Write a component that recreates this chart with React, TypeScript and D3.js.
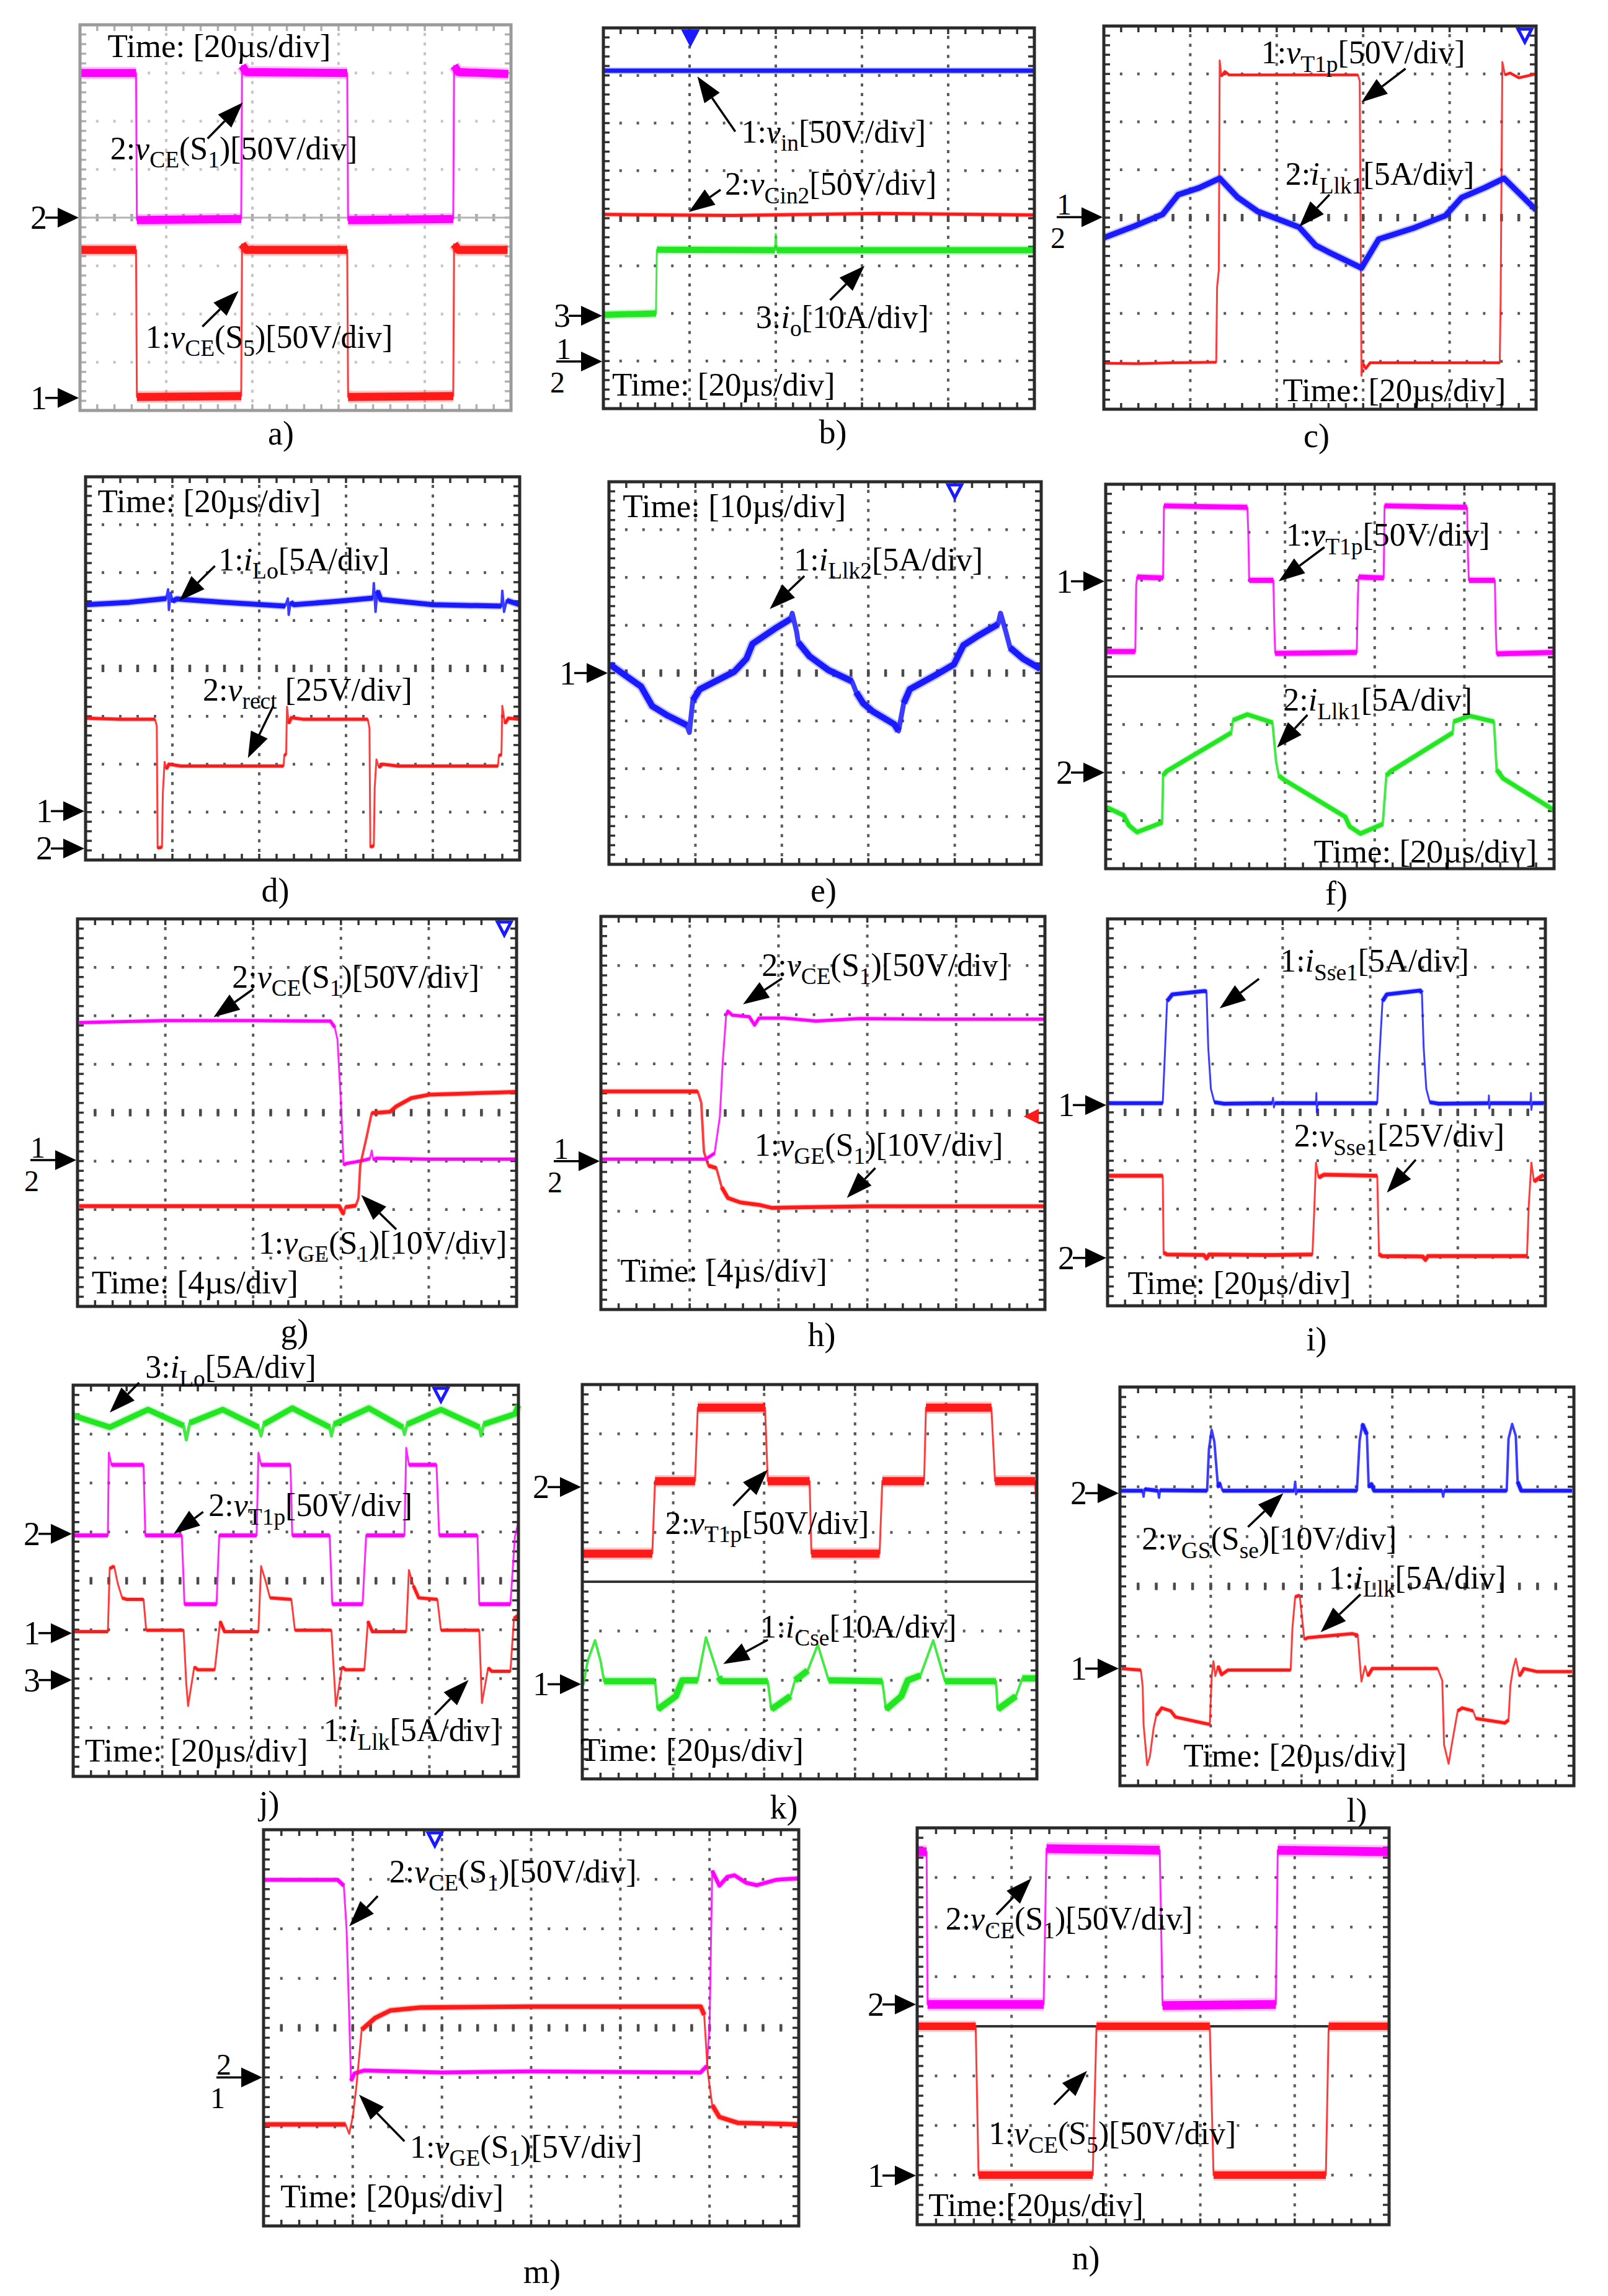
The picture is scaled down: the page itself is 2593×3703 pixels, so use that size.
import React from "react";
import * as d3 from "d3";

type Pt = [number, number];
type Seg = { t: string; i?: boolean; s?: boolean };

const FONT = "'Liberation Serif','Times New Roman',serif";
const MAG = "#ff00ff";
const RED = "#ff1a1a";
const BLUE = "#1a1aff";
const GREEN = "#22e622";

// ---------- trace data (x in divisions from left, y in divisions from bottom) ----------
const aCh2: Pt[] = [[0.01,7.0],[0.65,7.0],[0.66,3.95],[1.87,3.97],[1.88,7.15],[1.93,7.02],[3.10,7.0],[3.11,3.95],[4.33,3.97],[4.34,7.15],[4.39,7.02],[4.97,6.98]];
const aCh1: Pt[] = [[0.01,3.33],[0.65,3.33],[0.66,0.28],[1.87,0.30],[1.88,3.45],[1.93,3.33],[3.10,3.33],[3.11,0.28],[4.33,0.30],[4.34,3.45],[4.39,3.33],[4.96,3.33]];

const bCh1: Pt[] = [[0,7.1],[5,7.1]];
const bCh2: Pt[] = [[0,4.08],[1.5,4.06],[3.2,4.1],[5,4.07]];
const bCh3: Pt[] = [[0,1.97],[0.61,2.0],[0.62,3.34],[1.99,3.33],[2.0,3.67],[2.01,3.33],[5,3.33]];

const cCh1: Pt[] = [[0,0.96],[0.4,0.95],[0.8,0.97],[1.30,0.98],[1.31,2.55],[1.33,2.9],[1.34,7.28],[1.36,6.95],[1.40,7.05],[1.45,6.98],[2.0,6.98],[2.94,6.98],[2.96,6.85],[2.97,4.0],[2.98,0.70],[3.0,0.95],[3.03,0.85],[3.08,0.97],[4.58,0.97],[4.59,2.25],[4.61,7.25],[4.64,6.98],[4.7,7.02],[4.8,6.92],[5,7.0]];
const cCh2: Pt[] = [[0,3.58],[0.35,3.82],[0.68,4.07],[0.86,4.48],[1.10,4.62],[1.34,4.82],[1.55,4.42],[1.78,4.13],[2.26,3.80],[2.45,3.42],[2.60,3.28],[2.98,2.95],[3.18,3.55],[3.58,3.78],[3.95,4.04],[4.14,4.42],[4.40,4.62],[4.63,4.82],[5.0,4.16]];

const dCh1: Pt[] = [[0,5.33],[0.5,5.38],[0.93,5.46],[0.95,5.65],[0.96,5.22],[0.98,5.58],[1.0,5.40],[1.05,5.45],[1.6,5.38],[2.3,5.30],[2.33,5.46],[2.34,5.12],[2.36,5.38],[2.4,5.33],[2.9,5.40],[3.31,5.47],[3.32,5.78],[3.34,5.18],[3.36,5.62],[3.40,5.44],[3.5,5.42],[4.0,5.33],[4.79,5.30],[4.80,5.62],[4.82,5.18],[4.85,5.42],[5,5.33]];
const dCh2: Pt[] = [[0,2.96],[0.4,2.94],[0.80,2.94],[0.82,2.8],[0.83,0.25],[0.88,0.27],[0.89,1.4],[0.91,2.05],[0.93,1.90],[0.96,2.0],[1.1,1.96],[2.28,1.96],[2.29,2.2],[2.31,2.2],[2.32,3.2],[2.34,2.85],[2.37,2.97],[2.5,2.94],[3.25,2.94],[3.27,2.75],[3.28,0.27],[3.32,0.30],[3.33,1.5],[3.35,2.10],[3.38,1.93],[3.42,2.0],[3.6,1.96],[4.75,1.96],[4.76,2.18],[4.79,2.2],[4.80,3.22],[4.83,2.85],[4.87,2.96],[5,2.94]];

const eCh1: Pt[] = [[0.01,4.18],[0.37,3.72],[0.50,3.31],[0.68,3.11],[0.90,2.91],[0.93,2.76],[0.97,3.43],[1.05,3.66],[1.45,4.03],[1.59,4.30],[1.66,4.61],[1.92,4.93],[2.10,5.13],[2.12,5.25],[2.17,4.87],[2.19,4.64],[2.32,4.35],[2.54,4.06],[2.81,3.83],[2.86,3.60],[2.94,3.37],[3.05,3.20],[3.30,2.93],[3.35,2.79],[3.41,3.37],[3.48,3.66],[3.77,3.95],[3.99,4.18],[4.10,4.58],[4.28,4.79],[4.50,5.02],[4.53,5.25],[4.59,4.87],[4.64,4.53],[4.79,4.30],[4.99,4.09]];

const fCh1: Pt[] = [[0,4.52],[0.33,4.52],[0.34,5.9],[0.35,6.07],[0.64,6.05],[0.65,7.55],[1.58,7.52],[1.59,7.0],[1.60,6.0],[1.87,6.0],[1.88,5.1],[1.89,4.48],[2.80,4.50],[2.81,5.5],[2.82,6.07],[3.10,6.05],[3.11,7.55],[4.03,7.52],[4.04,6.5],[4.05,6.0],[4.34,6.0],[4.35,5.0],[4.36,4.47],[5,4.50]];
const fCh2: Pt[] = [[0.01,1.28],[0.20,1.11],[0.26,0.90],[0.35,0.76],[0.63,0.96],[0.64,1.94],[0.68,2.03],[1.40,2.83],[1.42,3.09],[1.58,3.21],[1.86,3.04],[1.90,2.23],[1.93,1.94],[1.99,1.85],[2.67,1.08],[2.72,0.88],[2.84,0.73],[3.09,0.93],[3.13,1.94],[3.18,2.03],[3.87,2.83],[3.88,3.06],[4.06,3.18],[4.33,3.06],[4.36,2.06],[4.43,1.88],[5.0,1.22]];

const gCh2: Pt[] = [[0.02,5.86],[1.0,5.9],[2.0,5.9],[2.88,5.89],[2.93,5.76],[2.96,5.51],[3.0,4.21],[3.03,2.92],[3.06,2.95],[3.22,3.0],[3.33,3.05],[3.35,3.22],[3.37,3.02],[3.40,3.06],[4.0,3.04],[5.0,3.04]];
const gCh1: Pt[] = [[0.02,2.07],[2.98,2.07],[3.03,1.90],[3.05,2.05],[3.17,2.08],[3.20,2.24],[3.22,2.92],[3.29,3.48],[3.35,3.99],[3.56,4.02],[3.63,4.13],[3.80,4.30],[4.0,4.37],[5.0,4.43]];

const hCh1: Pt[] = [[0.01,4.44],[1.09,4.44],[1.13,4.21],[1.16,3.21],[1.21,2.93],[1.30,2.88],[1.36,2.49],[1.43,2.27],[1.57,2.18],[1.78,2.13],[1.92,2.07],[3.0,2.10],[5.0,2.10]];
const hCh2: Pt[] = [[0.01,3.06],[1.18,3.06],[1.28,3.18],[1.34,3.93],[1.37,4.99],[1.41,5.99],[1.43,6.07],[1.48,5.99],[1.67,5.96],[1.73,5.79],[1.78,5.93],[2.06,5.93],[2.42,5.87],[2.91,5.92],[3.76,5.91],[5.0,5.91]];

const iCh1: Pt[] = [[0.01,4.19],[0.63,4.19],[0.65,5.0],[0.68,6.30],[0.74,6.44],[1.11,6.51],[1.13,6.49],[1.15,5.34],[1.18,4.49],[1.22,4.21],[1.33,4.18],[1.88,4.19],[1.89,4.3],[1.90,4.1],[1.91,4.19],[2.38,4.19],[2.385,4.4],[2.39,4.0],[2.40,4.19],[3.08,4.19],[3.10,5.0],[3.14,6.30],[3.19,6.44],[3.57,6.52],[3.59,6.47],[3.61,5.34],[3.64,4.49],[3.68,4.21],[3.78,4.18],[4.35,4.19],[4.355,4.35],[4.36,4.08],[4.37,4.19],[4.83,4.19],[4.835,4.4],[4.84,4.05],[4.85,4.19],[4.98,4.19]];
const iCh2: Pt[] = [[0.01,2.69],[0.63,2.69],[0.64,1.10],[0.68,1.06],[1.1,1.05],[1.13,0.98],[1.16,1.06],[1.9,1.05],[2.34,1.06],[2.36,1.95],[2.38,2.96],[2.41,2.65],[2.47,2.71],[3.08,2.69],[3.10,1.07],[3.13,1.03],[3.6,1.02],[3.63,0.95],[3.66,1.03],[4.79,1.03],[4.81,2.06],[4.84,2.96],[4.87,2.57],[4.98,2.71]];

const jCh3: Pt[] = [[0,7.38],[0.41,7.14],[0.84,7.50],[1.24,7.17],[1.27,6.88],[1.31,7.23],[1.68,7.50],[2.08,7.14],[2.11,6.96],[2.14,7.2],[2.46,7.53],[2.88,7.14],[2.90,6.96],[2.93,7.2],[3.32,7.53],[3.70,7.14],[3.72,6.99],[3.75,7.2],[4.13,7.50],[4.56,7.14],[4.58,6.96],[4.61,7.2],[4.96,7.41],[5.0,7.59]];
const jCh2: Pt[] = [[0,4.93],[0.39,4.93],[0.40,6.62],[0.43,6.37],[0.79,6.37],[0.81,4.93],[1.22,4.93],[1.25,3.52],[1.61,3.52],[1.64,4.93],[2.06,4.93],[2.08,6.62],[2.11,6.37],[2.44,6.37],[2.46,4.93],[2.88,4.93],[2.91,3.52],[3.25,3.52],[3.29,4.93],[3.72,4.93],[3.74,6.72],[3.77,6.37],[4.08,6.37],[4.11,4.93],[4.54,4.93],[4.56,3.52],[4.91,3.52],[4.96,4.9],[5,5.2]];
const jCh1: Pt[] = [[0,2.96],[0.39,2.96],[0.41,4.25],[0.46,4.30],[0.50,3.95],[0.55,3.65],[0.60,3.62],[0.79,3.62],[0.82,2.99],[1.24,2.99],[1.27,1.9],[1.29,1.44],[1.36,2.24],[1.40,2.18],[1.59,2.18],[1.65,3.17],[1.70,2.96],[2.08,2.96],[2.11,4.30],[2.16,4.0],[2.21,3.65],[2.45,3.62],[2.49,2.99],[2.90,2.99],[2.95,1.44],[3.02,2.24],[3.06,2.18],[3.27,2.18],[3.31,3.17],[3.36,2.96],[3.74,2.96],[3.77,4.22],[3.82,3.9],[3.88,3.65],[4.09,3.62],[4.13,2.99],[4.56,2.99],[4.59,1.50],[4.66,2.22],[4.70,2.15],[4.91,2.15],[4.95,3.23],[5.0,3.3]];

const kCh2: Pt[] = [[0.01,4.57],[0.77,4.57],[0.80,6.04],[1.24,6.04],[1.27,7.53],[2.01,7.53],[2.04,6.04],[2.50,6.04],[2.52,4.57],[3.27,4.57],[3.30,6.04],[3.76,6.04],[3.78,7.53],[4.50,7.53],[4.54,6.04],[4.98,6.04],[5.0,5.3]];
const kCh1: Pt[] = [[0.01,1.9],[0.06,2.4],[0.14,2.81],[0.20,2.4],[0.24,1.98],[0.80,1.98],[0.83,1.41],[1.03,1.68],[1.10,2.0],[1.27,2.0],[1.36,2.87],[1.50,2.07],[1.53,1.98],[2.04,1.98],[2.08,1.41],[2.29,1.68],[2.34,2.0],[2.48,2.2],[2.59,2.72],[2.71,2.0],[3.30,1.98],[3.34,1.41],[3.51,1.68],[3.58,2.0],[3.72,2.1],[3.86,2.81],[3.99,1.98],[4.55,1.98],[4.57,1.41],[4.77,1.68],[4.84,2.04],[5.0,2.04]];

const lCh2: Pt[] = [[0.01,5.92],[0.25,5.92],[0.26,5.8],[0.27,5.95],[0.42,5.92],[0.43,5.78],[0.44,5.93],[0.96,5.92],[0.98,6.75],[1.01,7.14],[1.04,6.90],[1.08,5.99],[1.10,6.08],[1.13,5.92],[1.92,5.92],[1.93,6.10],[1.94,5.85],[1.95,5.92],[2.61,5.92],[2.64,6.93],[2.67,7.26],[2.72,7.05],[2.74,5.99],[2.77,6.05],[2.80,5.92],[3.55,5.92],[3.56,5.8],[3.57,5.92],[4.26,5.92],[4.28,6.96],[4.32,7.26],[4.36,7.02],[4.38,6.10],[4.42,5.92],[4.98,5.92]];
const lCh1: Pt[] = [[0.02,2.35],[0.23,2.32],[0.25,2.0],[0.26,1.23],[0.30,0.41],[0.33,0.59],[0.37,1.15],[0.40,1.41],[0.46,1.56],[0.56,1.50],[0.61,1.38],[0.91,1.26],[0.99,1.23],[1.01,2.20],[1.03,2.5],[1.05,2.2],[1.08,2.4],[1.12,2.23],[1.19,2.32],[1.88,2.32],[1.90,3.17],[1.93,3.79],[1.98,3.82],[2.03,2.94],[2.07,2.97],[2.56,3.05],[2.62,3.02],[2.65,2.29],[2.66,2.09],[2.70,2.40],[2.73,2.20],[2.78,2.35],[3.50,2.35],[3.55,2.11],[3.57,0.82],[3.62,0.44],[3.66,0.88],[3.72,1.50],[3.77,1.56],[3.89,1.50],[3.92,1.35],[4.24,1.26],[4.28,1.32],[4.30,2.0],[4.33,2.35],[4.36,2.55],[4.40,2.2],[4.45,2.35],[4.59,2.29],[4.98,2.29]];

const mCh2: Pt[] = [[0,6.99],[0.83,6.99],[0.90,6.87],[0.93,6.02],[0.96,4.26],[0.98,2.93],[1.02,3.08],[1.13,3.14],[2.0,3.1],[3.0,3.12],[4.90,3.10],[4.97,3.23],[5.0,4.02],[5.03,7.17],[5.11,6.87],[5.20,7.05],[5.28,7.08],[5.41,6.93],[5.53,6.88],[5.75,6.99],[6.0,7.02]];
const mCh1: Pt[] = [[0,2.05],[0.92,2.05],[0.96,1.86],[1.0,2.20],[1.04,2.80],[1.10,3.96],[1.25,4.20],[1.42,4.35],[1.76,4.41],[3.0,4.43],[4.90,4.43],[4.94,4.26],[4.98,3.11],[5.03,2.44],[5.11,2.20],[5.32,2.08],[6.0,2.05]];

const nCh2: Pt[] = [[0,7.52],[0.10,7.52],[0.11,4.44],[1.34,4.44],[1.37,7.58],[2.57,7.55],[2.60,4.42],[3.80,4.44],[3.82,7.55],[5.0,7.52]];
const nCh1: Pt[] = [[0,4.0],[0.62,4.0],[0.65,1.0],[1.86,1.0],[1.90,4.0],[3.10,4.0],[3.14,1.0],[4.33,1.0],[4.36,4.0],[5.0,4.0]];

// ---------- text helpers ----------
const T = (s: string): Seg => ({ t: s });
const I = (s: string): Seg => ({ t: s, i: true });
const B = (s: string): Seg => ({ t: s, s: true });

const vce = (ch: string, sw: string, sc: string): Seg[] => [T(ch + ":"), I("v"), B("CE"), T("(S"), B(sw), T(")[" + sc + "]")];
const vge = (ch: string, sc: string): Seg[] => [T(ch + ":"), I("v"), B("GE"), T("(S"), B("1"), T(")[" + sc + "]")];

type Trace = { pts: Pt[]; c: string; w: number; ew: number };
type Annot = { segs: Seg[]; tx: number; ty: number; from: Pt; to: Pt };
type Marker = { y: number; labels: string[] };
type Panel = {
  x: number; y: number; w: number; h: number; nx: number;
  split?: boolean; light?: boolean;
  traces: Trace[]; annots: Annot[]; markers: Marker[];
  time: { text: string; x: number; y: number };
  label: { text: string; x: number; y: number };
  trig?: { x: number; hollow?: boolean }[];
  rmark?: { y: number; c: string };
};

const panels: Panel[] = [
  {
    x: 129, y: 40, w: 695, h: 622, nx: 5, light: true,
    traces: [{ pts: aCh2, c: MAG, w: 13, ew: 3 }, { pts: aCh1, c: RED, w: 13, ew: 3 }],
    annots: [
      { segs: vce("2", "1", "50V/div"), tx: 0.35, ty: 5.21, from: [1.48, 5.64], to: [1.89, 6.39] },
      { segs: vce("1", "5", "50V/div"), tx: 0.76, ty: 1.30, from: [1.42, 1.74], to: [1.84, 2.48] },
    ],
    markers: [{ y: 4.0, labels: ["2"] }, { y: 0.26, labels: ["1"] }],
    time: { text: "Time: [20µs/div]", x: 0.32, y: 7.33 },
    label: { text: "a)", x: 453, y: 699 },
  },
  {
    x: 973, y: 45, w: 695, h: 614, nx: 5,
    traces: [{ pts: bCh1, c: BLUE, w: 7, ew: 3 }, { pts: bCh2, c: RED, w: 5, ew: 3 }, { pts: bCh3, c: GREEN, w: 10, ew: 3 }],
    annots: [
      { segs: [T("1:"), I("v"), B("in"), T("[50V/div]")], tx: 1.6, ty: 5.59, from: [1.53, 5.82], to: [1.09, 6.98] },
      { segs: [T("2:"), I("v"), B("Cin2"), T("[50V/div]")], tx: 1.41, ty: 4.49, from: [1.36, 4.60], to: [0.99, 4.13] },
      { segs: [T("3:"), I("i"), B("o"), T("[10A/div]")], tx: 1.77, ty: 1.70, from: [2.63, 2.28], to: [3.03, 3.0] },
    ],
    markers: [{ y: 1.95, labels: ["3"] }, { y: 0.99, labels: ["1", "2"] }],
    time: { text: "Time: [20µs/div]", x: 0.10, y: 0.27 },
    label: { text: "b)", x: 1343, y: 697 },
    trig: [{ x: 1.01 }],
  },
  {
    x: 1780, y: 42, w: 697, h: 618, nx: 5,
    traces: [{ pts: cCh1, c: RED, w: 4, ew: 3 }, { pts: cCh2, c: BLUE, w: 9, ew: 7 }],
    annots: [
      { segs: [T("1:"), I("v"), B("T1p"), T("[50V/div]")], tx: 1.82, ty: 7.22, from: [3.49, 7.11], to: [2.98, 6.41] },
      { segs: [T("2:"), I("i"), B("Llk1"), T("[5A/div]")], tx: 2.10, ty: 4.68, from: [2.61, 4.48], to: [2.26, 3.81] },
    ],
    markers: [{ y: 4.01, labels: ["1", "2"] }],
    time: { text: "Time: [20µs/div]", x: 2.07, y: 0.17 },
    label: { text: "c)", x: 2123, y: 703 },
    trig: [{ x: 4.87, hollow: true }],
  },
  {
    x: 138, y: 769, w: 700, h: 618, nx: 5,
    traces: [{ pts: dCh1, c: BLUE, w: 8, ew: 4 }, { pts: dCh2, c: RED, w: 5, ew: 3 }],
    annots: [
      { segs: [T("1:"), I("i"), B("Lo"), T("[5A/div]")], tx: 1.53, ty: 6.05, from: [1.49, 6.14], to: [1.08, 5.41] },
      { segs: [T("2:"), I("v"), B("rect"), T(" [25V/div]")], tx: 1.35, ty: 3.33, from: [2.16, 3.21], to: [1.87, 2.13] },
    ],
    markers: [{ y: 1.02, labels: ["1"] }, { y: 0.24, labels: ["2"] }],
    time: { text: "Time: [20µs/div]", x: 0.14, y: 7.26 },
    label: { text: "d)", x: 444, y: 1436 },
  },
  {
    x: 982, y: 777, w: 697, h: 617, nx: 5,
    traces: [{ pts: eCh1, c: BLUE, w: 10, ew: 8 }],
    annots: [
      { segs: [T("1:"), I("i"), B("Llk2"), T("[5A/div]")], tx: 2.14, ty: 6.15, from: [2.26, 6.03], to: [1.86, 5.34] },
    ],
    markers: [{ y: 4.0, labels: ["1"] }],
    time: { text: "Time: [10µs/div]", x: 0.16, y: 7.26 },
    label: { text: "e)", x: 1328, y: 1436 },
    trig: [{ x: 4.0, hollow: true }],
  },
  {
    x: 1783, y: 781, w: 723, h: 620, nx: 5, split: true,
    traces: [{ pts: fCh1, c: MAG, w: 8, ew: 3 }, { pts: fCh2, c: GREEN, w: 7, ew: 4 }],
    annots: [
      { segs: [T("1:"), I("v"), B("T1p"), T("[50V/div]")], tx: 2.01, ty: 6.72, from: [2.44, 6.69], to: [1.93, 5.98] },
      { segs: [T("2:"), I("i"), B("Llk1"), T("[5A/div]")], tx: 1.98, ty: 3.29, from: [2.25, 3.20], to: [1.91, 2.52] },
    ],
    markers: [{ y: 5.98, labels: ["1"] }, { y: 2.0, labels: ["2"] }],
    time: { text: "Time: [20µs/div]", x: 2.32, y: 0.13 },
    label: { text: "f)", x: 2155, y: 1441 },
  },
  {
    x: 125, y: 1482, w: 708, h: 625, nx: 5,
    traces: [{ pts: gCh2, c: MAG, w: 5, ew: 3 }, { pts: gCh1, c: RED, w: 6, ew: 4 }],
    annots: [
      { segs: vce("2", "1", "50V/div"), tx: 1.76, ty: 6.58, from: [2.0, 6.55], to: [1.55, 5.97] },
      { segs: vge("1", "10V/div"), tx: 2.06, ty: 1.09, from: [3.63, 1.59], to: [3.23, 2.30] },
    ],
    markers: [{ y: 3.02, labels: ["1", "2"] }],
    time: { text: "Time: [4µs/div]", x: 0.16, y: 0.27 },
    label: { text: "g)", x: 475, y: 2147 },
    trig: [{ x: 4.86, hollow: true }],
  },
  {
    x: 969, y: 1478, w: 716, h: 634, nx: 5,
    traces: [{ pts: hCh1, c: RED, w: 6, ew: 4 }, { pts: hCh2, c: MAG, w: 5, ew: 3 }],
    annots: [
      { segs: vce("2", "1", "50V/div"), tx: 1.81, ty: 6.79, from: [2.04, 6.74], to: [1.60, 6.21] },
      { segs: vge("1", "10V/div"), tx: 1.73, ty: 3.13, from: [3.09, 2.88], to: [2.77, 2.27] },
    ],
    markers: [{ y: 3.02, labels: ["1", "2"] }],
    time: { text: "Time: [4µs/div]", x: 0.22, y: 0.57 },
    label: { text: "h)", x: 1325, y: 2153 },
    rmark: { y: 3.93, c: RED },
  },
  {
    x: 1786, y: 1482, w: 706, h: 624, nx: 5,
    traces: [{ pts: iCh1, c: BLUE, w: 6, ew: 3 }, { pts: iCh2, c: RED, w: 6, ew: 3 }],
    annots: [
      { segs: [T("1:"), I("i"), B("Sse1"), T("[5A/div]")], tx: 1.97, ty: 6.91, from: [1.73, 6.76], to: [1.28, 6.15] },
      { segs: [T("2:"), I("v"), B("Sse1"), T("[25V/div]")], tx: 2.13, ty: 3.29, from: [3.52, 3.02], to: [3.19, 2.34] },
    ],
    markers: [{ y: 4.15, labels: ["1"] }, { y: 0.99, labels: ["2"] }],
    time: { text: "Time: [20µs/div]", x: 0.23, y: 0.25 },
    label: { text: "i)", x: 2123, y: 2160 },
  },
  {
    x: 118, y: 2234, w: 718, h: 631, nx: 5,
    traces: [{ pts: jCh3, c: GREEN, w: 9, ew: 5 }, { pts: jCh2, c: MAG, w: 6, ew: 3 }, { pts: jCh1, c: RED, w: 5, ew: 3 }],
    annots: [
      { segs: [T("3:"), I("i"), B("Lo"), T("[5A/div]")], tx: 0.81, ty: 8.15, from: [0.74, 8.05], to: [0.41, 7.44] },
      { segs: [T("2:"), I("v"), B("T1p"), T("[50V/div]")], tx: 1.52, ty: 5.32, from: [1.46, 5.41], to: [1.13, 4.96] },
      { segs: [T("1:"), I("i"), B("Llk"), T("[5A/div]")], tx: 2.81, ty: 0.72, from: [4.06, 1.26], to: [4.44, 1.97] },
    ],
    markers: [{ y: 4.96, labels: ["2"] }, { y: 2.93, labels: ["1"] }, { y: 1.97, labels: ["3"] }],
    time: { text: "Time: [20µs/div]", x: 0.13, y: 0.30 },
    label: { text: "j)", x: 434, y: 2908 },
    trig: [{ x: 4.13, hollow: true }],
  },
  {
    x: 939, y: 2233, w: 733, h: 636, nx: 5, split: true,
    traces: [{ pts: kCh2, c: RED, w: 13, ew: 3 }, { pts: kCh1, c: GREEN, w: 10, ew: 4 }],
    annots: [
      { segs: [T("2:"), I("v"), B("T1p"), T("[50V/div]")], tx: 0.91, ty: 4.97, from: [1.66, 5.54], to: [2.04, 6.27] },
      { segs: [T("1:"), I("i"), B("Cse"), T("[10A/div]")], tx: 1.96, ty: 2.87, from: [2.04, 2.82], to: [1.55, 2.33] },
    ],
    markers: [{ y: 5.92, labels: ["2"] }, { y: 1.92, labels: ["1"] }],
    time: { text: "Time: [20µs/div]", x: -0.02, y: 0.37 },
    label: { text: "k)", x: 1264, y: 2915 },
  },
  {
    x: 1806, y: 2237, w: 732, h: 643, nx: 5,
    traces: [{ pts: lCh2, c: BLUE, w: 6, ew: 4 }, { pts: lCh1, c: RED, w: 5, ew: 3 }],
    annots: [
      { segs: [T("2:"), I("v"), B("GS"), T("(S"), B("se"), T(")[10V/div]")], tx: 0.24, ty: 4.74, from: [1.41, 5.19], to: [1.80, 5.87] },
      { segs: [T("1:"), I("i"), B("Llk"), T("[5A/div]")], tx: 2.30, ty: 3.96, from: [2.65, 3.84], to: [2.21, 3.08] },
    ],
    markers: [{ y: 5.87, labels: ["2"] }, { y: 2.35, labels: ["1"] }],
    time: { text: "Time: [20µs/div]", x: 0.70, y: 0.38 },
    label: { text: "l)", x: 2188, y: 2920 },
  },
  {
    x: 425, y: 2951, w: 863, h: 639, nx: 6,
    traces: [{ pts: mCh2, c: MAG, w: 6, ew: 3 }, { pts: mCh1, c: RED, w: 7, ew: 3 }],
    annots: [
      { segs: vce("2", "1", "50V/div"), tx: 1.41, ty: 6.94, from: [1.28, 6.66], to: [0.96, 6.05] },
      { segs: vge("1", "5V/div"), tx: 1.64, ty: 1.38, from: [1.58, 1.71], to: [1.07, 2.65] },
    ],
    markers: [{ y: 3.0, labels: ["2", "1"] }],
    time: { text: "Time: [20µs/div]", x: 0.19, y: 0.38 },
    label: { text: "m)", x: 874, y: 3664 },
    trig: [{ x: 1.92, hollow: true }],
  },
  {
    x: 1479, y: 2948, w: 761, h: 640, nx: 5, split: true,
    traces: [{ pts: nCh2, c: MAG, w: 14, ew: 3 }, { pts: nCh1, c: RED, w: 12, ew: 3 }],
    annots: [
      { segs: vce("2", "1", "50V/div"), tx: 0.30, ty: 5.95, from: [0.84, 6.25], to: [1.21, 6.98] },
      { segs: vce("1", "5", "50V/div"), tx: 0.76, ty: 1.62, from: [1.45, 2.42], to: [1.80, 3.10] },
    ],
    markers: [{ y: 4.44, labels: ["2"] }, { y: 0.99, labels: ["1"] }],
    time: { text: "Time:[20µs/div]", x: 0.12, y: 0.17 },
    label: { text: "n)", x: 1751, y: 3642 },
  },
];

const FS = 52;

function RichText({ x, y, segs, fs }: { x: number; y: number; segs: Seg[]; fs: number }) {
  let prevSub = false;
  const spans = segs.map((g, k) => {
    let dy = 0;
    if (g.s && !prevSub) dy = fs * 0.26;
    if (!g.s && prevSub) dy = -fs * 0.26;
    prevSub = !!g.s;
    return (
      <tspan key={k} dy={dy} fontStyle={g.i ? "italic" : "normal"} fontSize={g.s ? fs * 0.72 : fs}>
        {g.t}
      </tspan>
    );
  });
  return (
    <text x={x} y={y} fontSize={fs} fontFamily={FONT} fill="#000">
      {spans}
    </text>
  );
}

function Arrow({ x1, y1, x2, y2 }: { x1: number; y1: number; x2: number; y2: number }) {
  const ang = Math.atan2(y2 - y1, x2 - x1);
  const L = 42, W = 15;
  const bx = x2 - L * Math.cos(ang), by = y2 - L * Math.sin(ang);
  const nx = -Math.sin(ang), ny = Math.cos(ang);
  return (
    <g>
      <line x1={x1} y1={y1} x2={bx} y2={by} stroke="#000" strokeWidth={3.5} />
      <path d={`M${x2},${y2}L${bx + nx * W},${by + ny * W}L${bx - nx * W},${by - ny * W}Z`} fill="#000" />
    </g>
  );
}

function TraceView({ tr, xs, ys }: { tr: Trace; xs: d3.ScaleLinear<number, number>; ys: d3.ScaleLinear<number, number> }) {
  const px: [number, number][] = tr.pts.map(([a, b]) => [xs(a), ys(b)]);
  const line = d3.line();
  const runs: [number, number][][] = [];
  let cur: [number, number][] = [];
  for (let k = 0; k < px.length - 1; k++) {
    const dx = Math.abs(px[k + 1][0] - px[k][0]);
    const dy = Math.abs(px[k + 1][1] - px[k][1]);
    if (dy <= 2.5 * dx) {
      if (!cur.length) cur.push(px[k]);
      cur.push(px[k + 1]);
    } else {
      if (cur.length) runs.push(cur);
      cur = [];
    }
  }
  if (cur.length) runs.push(cur);
  return (
    <g>
      <path d={line(px) || ""} fill="none" stroke={tr.c} strokeWidth={tr.ew} strokeOpacity={0.85} strokeLinejoin="round" />
      {runs.map((r, k) => (
        <path key={"h" + k} d={line(r) || ""} fill="none" stroke={tr.c} strokeWidth={tr.w * 1.5} strokeOpacity={0.25} strokeLinejoin="round" />
      ))}
      {runs.map((r, k) => (
        <path key={"r" + k} d={line(r) || ""} fill="none" stroke={tr.c} strokeWidth={tr.w} strokeLinejoin="round" />
      ))}
    </g>
  );
}

function PanelView({ p }: { p: Panel }) {
  const xs = d3.scaleLinear().domain([0, p.nx]).range([p.x, p.x + p.w]);
  const ys = d3.scaleLinear().domain([0, 8]).range([p.y + p.h, p.y]);
  const mx = p.w / p.nx / 5;
  const my = p.h / 8 / 5;
  const dotC = p.light ? "#c6c6c6" : "#5a5a5a";
  const frameC = p.light ? "#9a9a9a" : "#2a2a2a";
  const tickC = p.light ? "#b0b0b0" : "#333";
  const grid: React.ReactNode[] = [];
  d3.range(1, p.nx).forEach((i) => {
    grid.push(
      <line key={"v" + i} x1={xs(i)} x2={xs(i)} y1={ys(8)} y2={ys(0)} stroke={dotC} strokeWidth={4}
        strokeDasharray={`5 ${my - 5}`} strokeDashoffset={2.5} />
    );
  });
  d3.range(1, 8).forEach((j) => {
    if (p.split && j === 4) return;
    grid.push(
      <line key={"h" + j} x1={xs(0)} x2={xs(p.nx)} y1={ys(j)} y2={ys(j)} stroke={dotC} strokeWidth={4.5}
        strokeDasharray={`4 ${mx - 4}`} strokeDashoffset={2} />
    );
  });
  d3.range(1, p.nx * 5).forEach((k) => {
    const x = xs(0) + k * mx;
    grid.push(<line key={"tt" + k} x1={x} x2={x} y1={ys(8)} y2={ys(8) + 10} stroke={tickC} strokeWidth={3.5} />);
    grid.push(<line key={"tb" + k} x1={x} x2={x} y1={ys(0)} y2={ys(0) - 10} stroke={tickC} strokeWidth={3.5} />);
    if (!p.split) {
      grid.push(<line key={"tc" + k} x1={x} x2={x} y1={ys(4) - 6} y2={ys(4) + 6} stroke={p.light ? "#aaa" : "#4a4a4a"} strokeWidth={4.5} />);
    }
  });
  d3.range(1, 40).forEach((k) => {
    const y = ys(0) - k * my;
    grid.push(<line key={"tl" + k} x1={xs(0)} x2={xs(0) + 10} y1={y} y2={y} stroke={tickC} strokeWidth={3.5} />);
    grid.push(<line key={"tr" + k} x1={xs(p.nx)} x2={xs(p.nx) - 10} y1={y} y2={y} stroke={tickC} strokeWidth={3.5} />);
  });
  if (p.light) {
    grid.push(<line key="cl" x1={xs(0)} x2={xs(p.nx)} y1={ys(4)} y2={ys(4)} stroke="#b4b4b4" strokeWidth={3} />);
  }

  const x0 = xs(0);
  return (
    <g>
      <rect x={p.x} y={p.y} width={p.w} height={p.h} fill="#fff" />
      {grid}
      {p.split && <line x1={xs(0)} x2={xs(p.nx)} y1={ys(4)} y2={ys(4)} stroke="#333" strokeWidth={4} />}
      {p.trig &&
        p.trig.map((t, k) => {
          const tx = xs(t.x), ty = ys(8);
          return (
            <path key={"trg" + k} d={`M${tx - 11},${ty + 5}L${tx + 11},${ty + 5}L${tx},${ty + 26}Z`}
              fill={t.hollow ? "#fff" : BLUE} stroke={BLUE} strokeWidth={5} />
          );
        })}
      {p.traces.map((tr, k) => (
        <TraceView key={"tr" + k} tr={tr} xs={xs} ys={ys} />
      ))}
      {p.rmark && (
        <path d={`M${xs(p.nx) - 30},${ys(p.rmark.y)}L${xs(p.nx) - 12},${ys(p.rmark.y) - 9}L${xs(p.nx) - 12},${ys(p.rmark.y) + 9}Z`}
          fill={p.rmark.c} stroke={p.rmark.c} strokeWidth={4} />
      )}
      <rect x={p.x} y={p.y} width={p.w} height={p.h} fill="none" stroke={frameC} strokeWidth={5} />
      {p.annots.map((a, k) => (
        <g key={"an" + k}>
          <Arrow x1={xs(a.from[0])} y1={ys(a.from[1])} x2={xs(a.to[0])} y2={ys(a.to[1])} />
          <RichText x={xs(a.tx)} y={ys(a.ty)} segs={a.segs} fs={FS} />
        </g>
      ))}
      {p.markers.map((m, k) => {
        const y = ys(m.y);
        const tip = x0 - 2;
        const base = tip - 34;
        const start = base - (m.labels.length === 1 ? 20 : 40);
        return (
          <g key={"mk" + k}>
            <line x1={start} x2={base + 2} y1={y} y2={y} stroke="#000" strokeWidth={3.5} />
            <path d={`M${tip},${y}L${base},${y - 16}L${base},${y + 16}Z`} fill="#000" />
            {m.labels.length === 1 ? (
              <text x={start + 3} y={y + 18} textAnchor="end" fontSize={54} fontFamily={FONT}>{m.labels[0]}</text>
            ) : (
              <g>
                <text x={start + 12} y={y - 4} textAnchor="middle" fontSize={48} fontFamily={FONT}>{m.labels[0]}</text>
                <text x={start + 2} y={y + 50} textAnchor="middle" fontSize={48} fontFamily={FONT}>{m.labels[1]}</text>
              </g>
            )}
          </g>
        );
      })}
      <RichText x={xs(p.time.x)} y={ys(p.time.y)} segs={[T(p.time.text)]} fs={53} />
      <text x={p.label.x} y={p.label.y + 18} textAnchor="middle" fontSize={54} fontFamily={FONT}>{p.label.text}</text>
    </g>
  );
}

export default function App() {
  return (
    <svg width={2593} height={3703} viewBox="0 0 2593 3703"
      style={{ position: "absolute", left: 0, top: 0, background: "#fff" }}>
      <rect x={0} y={0} width={2593} height={3703} fill="#fff" />
      {panels.map((p, k) => (
        <PanelView key={k} p={p} />
      ))}
    </svg>
  );
}
